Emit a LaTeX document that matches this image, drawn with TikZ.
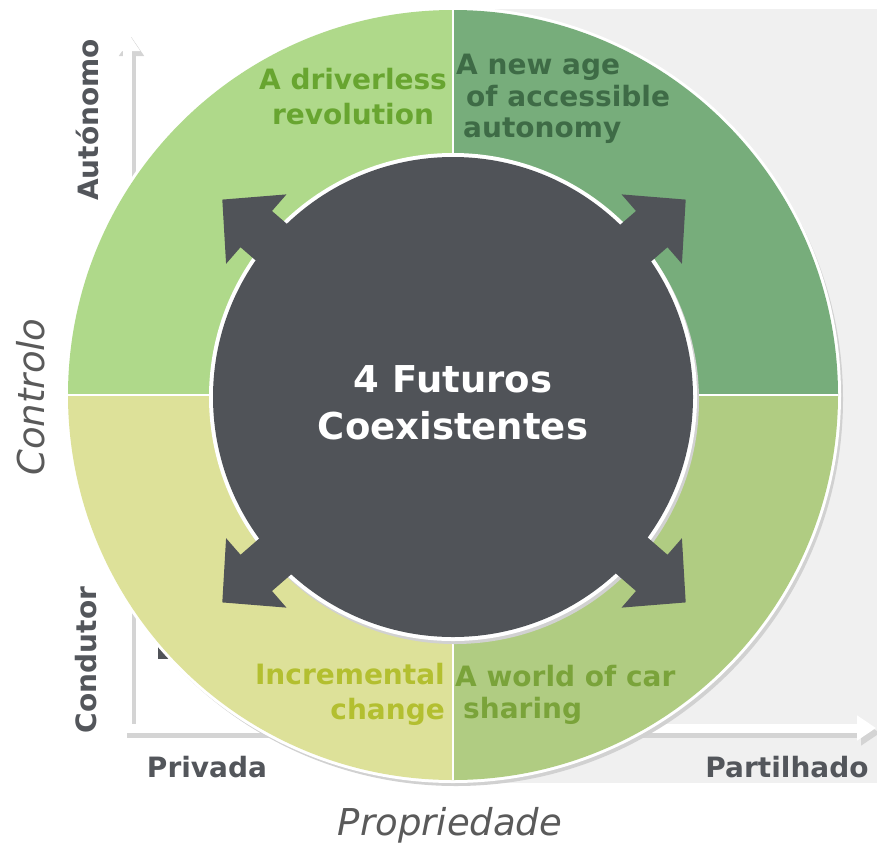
\documentclass[tikz,border=0pt]{standalone}
\usepackage{fontspec}
\setmainfont{DejaVu Sans}
\usetikzlibrary{calc, arrows.meta}

\definecolor{qtl}{HTML}{AFD98A}
\definecolor{qtr}{HTML}{77AD7B}
\definecolor{qbl}{HTML}{DDE199}
\definecolor{qbr}{HTML}{B0CC82}
\definecolor{core}{HTML}{505358}
\definecolor{txtl}{HTML}{68A530}
\definecolor{txtr}{HTML}{3E6B46}
\definecolor{txbl}{HTML}{B3BF30}
\definecolor{txbr}{HTML}{7AA33A}
\definecolor{axisgray}{HTML}{53565B}
\definecolor{titlegray}{HTML}{5A5A5A}
\definecolor{backgray}{HTML}{F0F0F0}

\tikzset{
  quadtext/.style={font=\bfseries\fontsize{28}{35}\selectfont, inner sep=0pt},
  coretext/.style={font=\bfseries\fontsize{37}{47}\selectfont, text=white, inner sep=0pt},
  axislabel/.style={font=\bfseries\fontsize{28}{30}\selectfont, text=axisgray, inner sep=0pt},
  axistitle/.style={font=\itshape\fontsize{37}{40}\selectfont, text=titlegray, inner sep=0pt},
  axisline/.style={line width=9pt, white, {Triangle[width=24pt,length=19pt]}-{Triangle[width=24pt,length=19pt]}},
  axisshadow/.style={line width=9pt, black!17, {Triangle[width=24pt,length=19pt]}-{Triangle[width=24pt,length=19pt]}},
}

\begin{document}
\begin{tikzpicture}[x=1pt, y=-1pt]

\useasboundingbox (0,0) rectangle (877,846);
\fill[backgray] (453,9) rectangle (877,783);

\coordinate (c) at (453,395);
\coordinate (ic) at (453,397);
\coordinate (ac) at (454,401);
\coordinate (origin) at (127.5,728);
\coordinate (ytip) at (127.5,32);
\coordinate (xtip) at (876,728);

% axes
\draw[axisshadow] ($(ytip)+(4,5)$) -- ($(origin)+(4,5)$) -- ($(xtip)+(4,5)$);
\draw[axisline] (ytip) -- (origin) -- (xtip);
\fill[core] (158,644) rectangle (176,659);

% outer ring
\fill[black!18] ($(c)+(3,4)$) circle (387);
\fill[white] (c) circle (388);
\begin{scope}
\clip (c) circle (385);
\fill[qtl] (c) rectangle ++(-390,-390);
\fill[qtr] (c) rectangle ++(390,-390);
\fill[qbl] (c) rectangle ++(-390,390);
\fill[qbr] (c) rectangle ++(390,390);
\draw[white, line width=2.5pt] ($(c)+(0,-390)$) -- ($(c)+(0,390)$);
\draw[white, line width=2.5pt] ($(c)+(-390,0)$) -- ($(c)+(390,0)$);
\end{scope}

% inner circle and arrows
\fill[black!18] ($(ic)+(2,3)$) circle (244);
\fill[white] (ic) circle (244);
\foreach \a in {41,139,221,319}{
  \fill[core] ($(ac)+(\a:200)+(\a+90:24)$) -- ($(ac)+(\a:262)+(\a+90:24)$)
    -- ($(ac)+(\a:262)+(\a+90:46)$) -- ($(ac)+(\a:307)$)
    -- ($(ac)+(\a:262)+(\a-90:46)$) -- ($(ac)+(\a:262)+(\a-90:24)$)
    -- ($(ac)+(\a:200)+(\a-90:24)$) -- cycle;
}
\fill[core] (ic) circle (240);

\node[coretext, align=center] (futuros) at (453,403) {4 Futuros\\Coexistentes};

% quadrant texts
\node[quadtext, text=txtl, align=center] (driverless) at (353,97) {A driverless\\revolution};
\node[quadtext, text=txtr, anchor=west] (newage) at (456,67) {A new age};
\node[quadtext, text=txtr, anchor=west] (accessible) at (466,96) {of accessible};
\node[quadtext, text=txtr, anchor=west] (autonomy) at (463,131) {autonomy};
\node[quadtext, text=txbl, align=right, anchor=east] (incremental) at (445,694) {Incremental\\change};
\node[quadtext, text=txbr, anchor=west] (worldcar) at (455,676) {A world of car};
\node[quadtext, text=txbr, anchor=west] (sharing) at (463,711) {sharing};

% axis labels
\node[axislabel, rotate=90] (autonomo) at (87,120) {Autónomo};
\node[axislabel, rotate=90] (condutor) at (86,660) {Condutor};
\node[axistitle, rotate=90] (controlo) at (31,397) {Controlo};
\node[axislabel] (privada) at (207,767) {Privada};
\node[axislabel] (partilhado) at (787,767) {Partilhado};
\node[axistitle] (propriedade) at (450,825) {Propriedade};

\end{tikzpicture}
\end{document}
